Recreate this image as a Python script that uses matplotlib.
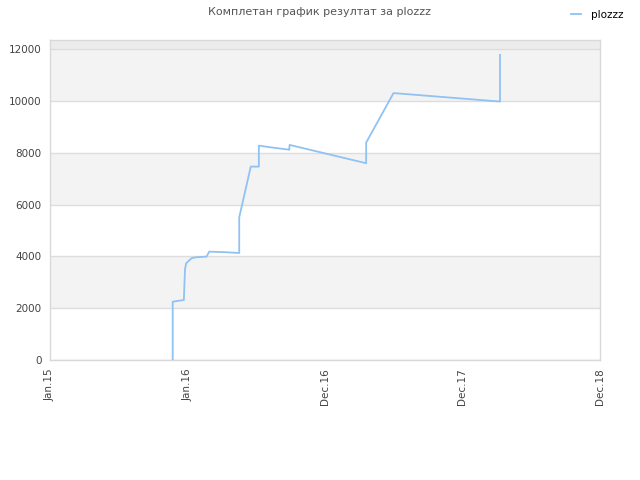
import matplotlib
matplotlib.use('Agg')
import matplotlib.pyplot as plt
import matplotlib.dates as mdates
import numpy as np
import pandas as pd

# data
dates = ['2015-11-16', '2015-11-16', '2015-12-15', '2015-12-18', '2015-12-21',
         '2015-12-26', '2016-01-04', '2016-01-16', '2016-02-12', '2016-02-19',
         '2016-03-31', '2016-05-07', '2016-05-07', '2016-06-06', '2016-06-27',
         '2016-06-27', '2016-07-26', '2016-09-12', '2016-09-14', '2016-09-15',
         '2017-04-02', '2017-04-02', '2017-06-12', '2017-06-16', '2018-03-16',
         '2018-03-16']
values = [0, 2250, 2316, 3500, 3733,
          3800, 3927, 3965, 3990, 4182,
          4160, 4130, 5508, 7464, 7464,
          8275, 8211, 8120, 8108, 8301,
          7594, 8390, 10297, 10297, 9974,
          11776]
series_name = 'plozzz'
title = 'Комплетан график резултат за plozzz'
x_start, x_end = '2015-01-01', '2018-12-01'
x_tick_labels = ['Jan.15', 'Jan.16', 'Dec.16', 'Dec.17', 'Dec.18']
y_ticks = [0, 2000, 4000, 6000, 8000, 10000, 12000]
y_top = 12350

x = mdates.date2num(pd.to_datetime(dates))
lo = mdates.date2num(pd.Timestamp(x_start))
hi = mdates.date2num(pd.Timestamp(x_end))

fig = plt.figure(figsize=(6.4, 4.8), dpi=100)
ax = fig.add_axes([50 / 640, 120 / 480, 550 / 640, 320 / 480])

# alternating bands
for i in range(len(y_ticks) - 1):
    if i % 2 == 1:
        ax.axhspan(y_ticks[i], y_ticks[i + 1], color='#f3f3f3', zorder=0, lw=0)
ax.axhspan(y_ticks[-1], y_top, color='#ececec', zorder=0, lw=0)
for yv in y_ticks:
    ax.axhline(yv, color='#dddddd', lw=1, zorder=1)

ax.plot(x, values, color='#90c2f3', lw=1.3, zorder=3, label=series_name)

ax.set_xlim(lo, hi)
ax.set_ylim(0, y_top)
ax.set_xticks(np.linspace(lo, hi, len(x_tick_labels)))
ax.set_xticklabels(x_tick_labels, rotation=90, fontsize=7.5, color='#444444')
ax.set_yticks(y_ticks)
ax.set_yticklabels([str(v) for v in y_ticks], fontsize=7.5, color='#444444')
ax.tick_params(length=0, pad=6)
for s in ax.spines.values():
    s.set_color('#d9d9d9')
    s.set_linewidth(1)

fig.text(0.5, 0.975, title, ha='center', va='center', fontsize=8, color='#555555')
leg = fig.legend(loc='center left', bbox_to_anchor=(571 / 640, 1 - 15 / 480),
                 frameon=False, fontsize=7.5, handlelength=1.0, handletextpad=0.9,
                 borderaxespad=0, borderpad=0, labelcolor='black')

fig.savefig('out.png', dpi=100)
